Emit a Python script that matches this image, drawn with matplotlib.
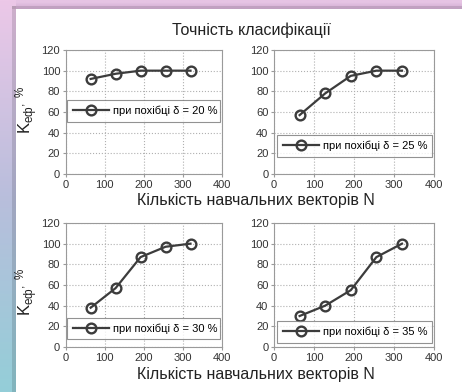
import numpy as np
import matplotlib
matplotlib.use("Agg")
import matplotlib.pyplot as plt
from matplotlib.patches import Rectangle

plt.rcParams['font.family'] = ['Liberation Sans', 'DejaVu Sans']
plt.rcParams['mathtext.fontset'] = 'custom'
plt.rcParams['mathtext.rm'] = 'Liberation Sans'
plt.rcParams['mathtext.it'] = 'Liberation Sans'

# Data
n_vectors = [64, 128, 192, 256, 320]
acc_20 = [92, 97, 100, 100, 100]
acc_25 = [57, 78, 95, 100, 100]
acc_30 = [38, 57, 87, 97, 100]
acc_35 = [30, 40, 55, 87, 100]
labels = ['при похібці δ = 20 %', 'при похібці δ = 25 %',
          'при похібці δ = 30 %', 'при похібці δ = 35 %']
x_ticks = [0, 100, 200, 300, 400]
y_ticks = [0, 20, 40, 60, 80, 100, 120]
title = 'Точність класифікації'
xlabel = 'Кількість навчальних векторів N'
ylabel = r'$\mathrm{K}_{\mathrm{еф}}{}^{,\ \%}$'

W, H = 462, 392
fig = plt.figure(figsize=(W / 100, H / 100), dpi=100)
fig.patch.set_facecolor('white')

# Background gradient frame
bg = fig.add_axes([0, 0, 1, 1], zorder=-10)
bg.set_xlim(0, W)
bg.set_ylim(H, 0)
bg.axis('off')
top = np.array([236, 200, 232]) / 255
mid = np.array([185, 190, 220]) / 255
bot = np.array([148, 206, 216]) / 255
t = np.linspace(0, 1, 200)[:, None]
grad = np.where(t < 0.5, top + (mid - top) * (t / 0.5), mid + (bot - mid) * ((t - 0.5) / 0.5))
img = np.repeat(grad[:, None, :], 2, axis=1)
bg.imshow(img, extent=[0, W, H, 0], aspect='auto', interpolation='bilinear')
topband = np.array([[[230, 196, 228]], [[215, 180, 215]]]) / 255
bg.imshow(np.repeat(topband, 2, axis=1), extent=[16, W, 9, 0], aspect='auto', interpolation='bilinear')
bg.add_patch(Rectangle((12, 6), 4, H, color='black', alpha=0.12, lw=0))
bg.add_patch(Rectangle((12, 6), W, 3, color='black', alpha=0.10, lw=0))
bg.add_patch(Rectangle((16, 9), W - 16, H - 9, facecolor='white', lw=0))

positions = [
    [65.7 / W, (H - 174) / H, 156 / W, 124 / H],
    [274 / W, (H - 174) / H, 160 / W, 124 / H],
    [65.7 / W, (H - 347) / H, 156 / W, 124 / H],
    [274 / W, (H - 347) / H, 160 / W, 124 / H],
]
series = [acc_20, acc_25, acc_30, acc_35]
legend_boxes = [
    (0.01, 0.41, 0.98, 0.20),
    (0.02, 0.135, 0.965, 0.18),
    (0.01, 0.06, 0.98, 0.175),
    (0.02, 0.05, 0.965, 0.14),
]

line_col = '#3c3c3c'
for pos, vals, lab, lb in zip(positions, series, labels, legend_boxes):
    ax = fig.add_axes(pos)
    ax.plot(n_vectors, vals, color=line_col, lw=1.6, marker='o', ms=7,
            mfc='none', mec=line_col, mew=1.7, label=lab, clip_on=False)
    ax.set_xlim(0, 400)
    ax.set_ylim(0, 120)
    ax.set_xticks(x_ticks)
    ax.set_yticks(y_ticks)
    ax.grid(True, color='#b0b0b0', linestyle=':', linewidth=0.8)
    for s in ax.spines.values():
        s.set_color('#9a9a9a')
        s.set_linewidth(0.8)
    ax.tick_params(labelsize=8, length=2, color='#9a9a9a', pad=2, labelcolor='#333333')
    leg = ax.legend(loc='center', bbox_to_anchor=lb, mode='expand', fontsize=8,
                    handlelength=3.3, frameon=True, fancybox=False, borderpad=0.5,
                    handletextpad=0.3, borderaxespad=0)
    leg.get_frame().set_edgecolor('#777777')
    leg.get_frame().set_linewidth(0.8)

fig.text(251 / W, 1 - 30 / H, title, ha='center', va='center', fontsize=11.5, color='#222222')
fig.text(256 / W, 1 - 201 / H, xlabel, ha='center', va='center', fontsize=11.5, color='#222222')
fig.text(256 / W, 1 - 375 / H, xlabel, ha='center', va='center', fontsize=11.5, color='#222222')
fig.text(27 / W, 1 - 110 / H, ylabel, ha='center', va='center', rotation=90, fontsize=12, color='#222222')
fig.text(27 / W, 1 - 292 / H, ylabel, ha='center', va='center', rotation=90, fontsize=12, color='#222222')

fig.savefig('out.png', dpi=100)
